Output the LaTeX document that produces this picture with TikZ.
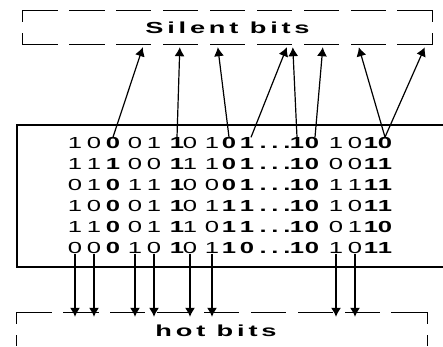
\documentclass[tikz,border=0pt]{standalone}
\usepackage{fontspec}
\usetikzlibrary{arrows.meta,positioning}
\newfontfamily\bitfont{Liberation Sans}
\newfontfamily\boxfont[LetterSpace=14]{Liberation Sans}
\newcommand\widebit[1]{\scalebox{1.6}[1]{#1}}
\newcommand\widelabel[1]{\scalebox{1.7}[1]{#1}}
\tikzset{
    bit/.style={inner sep=0pt, font=\bitfont\fontsize{16}{16}\selectfont},
    boldbit/.style={inner sep=0pt, font=\bitfont\bfseries\fontsize{16}{16}\selectfont},
    hside/.style={line width=1.2pt, line cap=rect, dash pattern=on 34.2pt off 12.7pt},
    vside/.style={line width=1.2pt, line cap=rect, dash pattern=on 10.1pt off 12.7pt},
    box label/.style={inner sep=0pt, font=\boxfont\bfseries\fontsize{16}{16}\selectfont},
    to silent/.style={-{Latex[length=9pt,width=10pt]}, line width=1.2pt},
    to hot/.style={-{Latex[length=9pt,width=10pt]}, line width=1.2pt, shorten >=-4pt}
}
\begin{document}
\begin{tikzpicture}[x=1pt, y=-1pt]
    \useasboundingbox (0,0) rectangle (443,346);
    \clip (0,0) rectangle (443,346);
    % the two dashed boxes, each side dashed on its own
    \node[minimum width=409pt, minimum height=33pt] (silent) at (227.5,27.5) {};
    \node[box label] (silentlabel) at (silent.center) {\widelabel{Silent bits}};
    \node[minimum width=410pt, minimum height=36pt] (hot) at (222,331) {};
    \node[box label] (hotlabel) at ([xshift=-6pt]hot.center) {\widelabel{hot bits}};
    \foreach \b in {silent,hot} {
        \draw[hside] (\b.north west) -- (\b.north east);
        \draw[hside] (\b.south west) -- (\b.south east);
        \draw[vside] (\b.north west) -- (\b.south west);
        \draw[vside] (\b.north east) -- (\b.south east);
    }
    % block of bit rows
    \node[draw, line width=1.2pt, minimum width=430pt, minimum height=142pt] (bits) at (232,196) {};
    \foreach \r/\row in {1/{1,0,0,0,1,1,0,1,0,1,1,0,1,0,1,0},
                         2/{1,1,1,0,0,1,1,1,0,1,1,0,0,0,1,1},
                         3/{0,1,0,1,1,1,0,0,0,1,1,0,1,1,1,1},
                         4/{1,0,0,0,1,1,0,1,1,1,1,0,1,0,1,1},
                         5/{1,1,0,0,1,1,1,0,1,1,1,0,0,1,1,0},
                         6/{0,0,0,1,0,1,0,1,1,0,1,0,1,0,1,1}}{
        \foreach \d [count=\c] in \row {
            \pgfmathsetmacro\x{{75,94,113,135,154,177,190,212,229,247,297,312,336,355,371,385}[\c-1]}
            \pgfmathtruncatemacro\w{{0,0,1,0,0,1,0,0,1,1,1,1,0,0,1,1}[\c-1]}
            \ifnum\w=1
                \node[boldbit] (b\r-\c) at (\x,{122+21*\r}) {\widebit{\d}};
            \else
                \node[bit] (b\r-\c) at (\x,{122+21*\r}) {\widebit{\d}};
            \fi
        }
        \node[boldbit, anchor=base] (dots\r) at (275,{127.7+21*\r}) {\widebit{.\hspace{3pt}.\hspace{3pt}.}};
    }
    % first row up to the silent bits
    \foreach \c/\sx/\dx in {3/0/120, 6/0/157, 9/0/195, 10/4/264, 11/0/270, 12/3/300, 16/0/336, 16/0/402}
        \draw[to silent] ([xshift=\sx pt]b1-\c.north) -- ([xshift=\dx pt, yshift=-3pt]silent.south west);
    % last row down to the hot bits
    \foreach \c in {1,2,4,5,7,8,13,14}
        \draw[to hot] (b6-\c.south) -- (b6-\c.south |- hot.north);
\end{tikzpicture}
\end{document}
